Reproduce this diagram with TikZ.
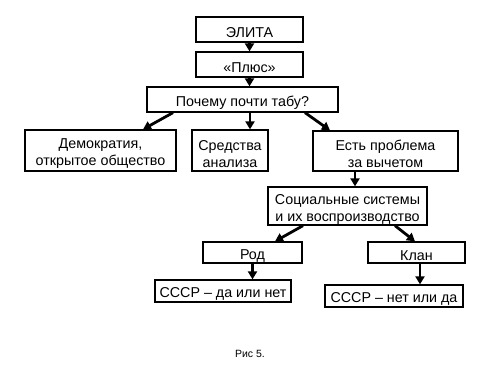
\documentclass[tikz,border=0pt]{standalone}
\usepackage{fontspec}
\setmainfont{Liberation Sans}
\usetikzlibrary{arrows.meta}
\newcommand\mytpad{\rule{0pt}{16.3pt}}
\begin{document}
\begin{tikzpicture}[x=1pt,y=-1pt,
  box/.style={draw=black,line width=1.3pt,inner sep=0pt,align=center,
    font=\fontsize{14.3}{17}\selectfont},
  arr/.style={line width=2.8pt,-{Triangle[length=8pt,width=9pt]}}]
\useasboundingbox[fill=white] (0,0) rectangle (500,375);
\node[box,minimum width=107pt,minimum height=25pt] (elita) at (249.5,29.5) {\mytpad ЭЛИТА};
\node[box,minimum width=107pt,minimum height=25pt] (plus) at (249.5,64.5) {\mytpad«Плюс»};
\node[box,minimum width=191pt,minimum height=25pt] (why) at (242.5,99.5) {\mytpad Почему почти табу?};
\node[box,minimum width=151pt,minimum height=41pt] (demo) at (100.5,150.5) {\mytpad Демократия,\\открытое общество};
\node[box,minimum width=76pt,minimum height=41pt] (means) at (230,150.5) {\mytpad Средства\\анализа};
\node[box,minimum width=145pt,minimum height=40pt] (prob) at (385.5,151) {\mytpad Есть проблема\\за вычетом};
\node[box,minimum width=159pt,minimum height=38pt] (soc) at (347.5,206) {\mytpad Социальные системы\\и их воспроизводство};
\node[box,minimum width=99pt,minimum height=21pt] (rod) at (252.5,252.5) {\mytpad Род};
\node[box,minimum width=97pt,minimum height=21pt] (klan) at (416.5,252.5) {\mytpad Клан};
\node[box,minimum width=136pt,minimum height=22pt] (s1) at (223,291) {\mytpad СССР – да или нет};
\node[box,minimum width=138pt,minimum height=22pt] (s2) at (394,296) {\mytpad СССР – нет или да};
\node[font=\fontsize{10.5}{12}\selectfont] (cap) at (250,354) {Рис 5.};
\draw[arr] (elita.south) -- (plus.north);
\draw[arr] (plus.south) -- (plus.south |- why.north);
\draw[arr] ([xshift=-69.5pt]why.south) -- ([xshift=42.5pt]demo.north);
\draw[arr] ([xshift=7.5pt]why.south) -- ([xshift=7.5pt]why.south |- means.north);
\draw[arr] ([xshift=62.5pt]why.south) -- ([xshift=-55.5pt]prob.north);
\draw[arr] ([xshift=-30.5pt]prob.south) -- ([xshift=-30.5pt]prob.south |- soc.north);
\draw[arr] ([xshift=-44.5pt]soc.south) -- ([xshift=22.5pt]rod.north);
\draw[arr] ([xshift=47.5pt]soc.south) -- ([xshift=-1.5pt]klan.north);
\draw[arr] (rod.south) -- (rod.south |- s1.north);
\draw[arr] ([xshift=3.5pt]klan.south) -- ([xshift=3.5pt]klan.south |- s2.north);
\end{tikzpicture}
\end{document}
